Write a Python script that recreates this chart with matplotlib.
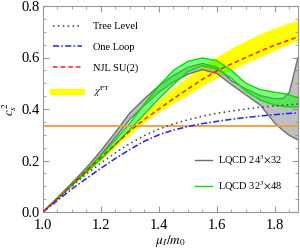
import matplotlib
matplotlib.use("Agg")
import matplotlib.pyplot as plt
from matplotlib.ticker import MultipleLocator
from matplotlib.lines import Line2D

plt.rcParams['font.family'] = ['Liberation Serif', 'DejaVu Serif']
plt.rcParams['mathtext.fontset'] = 'stix'

# ---- data ----
mu = [1.0, 1.05, 1.1, 1.15, 1.2, 1.25, 1.3, 1.35, 1.4, 1.45, 1.5, 1.55,
      1.6, 1.65, 1.7, 1.75, 1.8, 1.85, 1.88]

tree_level = [0, 0.05, 0.1, 0.148, 0.19, 0.23, 0.266, 0.297, 0.322, 0.342,
              0.358, 0.372, 0.383, 0.392, 0.4, 0.407, 0.412, 0.417, 0.419]
one_loop = [0, 0.045, 0.09, 0.13, 0.17, 0.208, 0.243, 0.275, 0.3, 0.318,
            0.332, 0.343, 0.352, 0.36, 0.367, 0.373, 0.378, 0.383, 0.385]
njl_su2 = [0, 0.052, 0.105, 0.16, 0.212, 0.263, 0.315, 0.36, 0.4, 0.44,
           0.478, 0.515, 0.548, 0.575, 0.6, 0.625, 0.648, 0.668, 0.68]
chpt_lo = [0, 0.048, 0.098, 0.148, 0.198, 0.248, 0.296, 0.345, 0.385, 0.42,
           0.452, 0.487, 0.518, 0.548, 0.575, 0.6, 0.625, 0.65, 0.664]
chpt_hi = [0, 0.056, 0.112, 0.165, 0.218, 0.27, 0.323, 0.378, 0.43, 0.478,
           0.522, 0.563, 0.6, 0.632, 0.662, 0.689, 0.712, 0.732, 0.741]

mu_lq = [1.0, 1.05, 1.1, 1.15, 1.2, 1.25, 1.3, 1.35, 1.4, 1.45, 1.5, 1.55,
         1.6, 1.65, 1.7, 1.75, 1.8, 1.83, 1.85, 1.88]
lq24_lo = [0, 0.053, 0.106, 0.16, 0.222, 0.29, 0.36, 0.415, 0.465, 0.505,
           0.535, 0.553, 0.538, 0.495, 0.455, 0.415, 0.345, 0.315, 0.298, 0.28]
lq24_hi = [0, 0.056, 0.113, 0.172, 0.238, 0.31, 0.385, 0.44, 0.49, 0.53,
           0.562, 0.577, 0.563, 0.51, 0.478, 0.452, 0.44, 0.442, 0.465, 0.6]
lq32_lo = [0, 0.052, 0.104, 0.155, 0.205, 0.262, 0.32, 0.38, 0.44, 0.495,
           0.545, 0.568, 0.555, 0.52, 0.47, 0.435, 0.415, 0.41, 0.408, 0.408]
lq32_hi = [0, 0.054, 0.108, 0.162, 0.22, 0.28, 0.345, 0.42, 0.49, 0.55,
           0.585, 0.598, 0.588, 0.55, 0.5, 0.475, 0.465, 0.46, 0.455, 0.443]

conformal = 1.0 / 3.0

xticks = [1.0, 1.2, 1.4, 1.6, 1.8]
yticks = [0.0, 0.2, 0.4, 0.6, 0.8]

# ---- figure ----
fig = plt.figure(figsize=(3.0, 2.52), dpi=100)
ax = fig.add_axes([43/300, 40/252, 255/300, 206/252])

ax.fill_between(mu, chpt_lo, chpt_hi, facecolor='#ffff00', edgecolor='none', zorder=1)
ax.fill_between(mu_lq, lq24_lo, lq24_hi, facecolor='#808080', alpha=0.5,
                edgecolor='none', zorder=2)
ax.plot(mu_lq, lq24_lo, color='#707070', lw=1.0, zorder=3)
ax.plot(mu_lq, lq24_hi, color='#707070', lw=1.0, zorder=3)
ax.fill_between(mu_lq, lq32_lo, lq32_hi, facecolor='#00ff00', alpha=0.5,
                edgecolor='none', zorder=4)
ax.plot(mu_lq, lq32_lo, color='#00e000', lw=1.0, zorder=5)
ax.plot(mu_lq, lq32_hi, color='#00e000', lw=1.0, zorder=5)

ax.axhline(conformal, color='#f39c34', lw=1.3, zorder=6)

ax.plot(mu, tree_level, color='#404040', lw=1.1, ls=(0, (1, 2.2)), zorder=7)
ax.plot(mu, one_loop, color='#1f1fff', lw=1.1, ls=(0, (4, 1.5, 1, 1.5)), zorder=7)
ax.plot(mu, njl_su2, color='#ff1a1a', lw=1.1, ls=(0, (3, 2)), zorder=8)

ax.set_xlim(1.0, 1.88)
ax.set_ylim(0.0, 0.8)
ax.set_xticks(xticks)
ax.set_yticks(yticks)
ax.set_xticklabels([f"{v:.1f}" for v in xticks])
ax.set_yticklabels([f"{v:.1f}" for v in yticks])
ax.xaxis.set_minor_locator(MultipleLocator(0.05))
ax.yaxis.set_minor_locator(MultipleLocator(0.05))
ax.tick_params(which='both', direction='in', top=True, right=True,
               color='#999999', labelsize=10.5)
ax.tick_params(axis='x', pad=5)
ax.tick_params(axis='y', pad=2)
ax.tick_params(which='major', length=4, width=0.8)
ax.tick_params(which='minor', length=2, width=0.6)
for s in ax.spines.values():
    s.set_color('#999999')
    s.set_linewidth(0.8)

ax.set_xlabel(r'$\mu_I/m_0$', fontsize=9.5, labelpad=1)
ax.set_ylabel(r'$c_s^{\,2}$', fontsize=9.5, labelpad=2)

h1 = [Line2D([], [], color='#404040', lw=1.1, ls=(0, (1, 2.2))),
      Line2D([], [], color='#1f1fff', lw=1.1, ls=(0, (4, 1.5, 1, 1.5))),
      Line2D([], [], color='#ff1a1a', lw=1.1, ls=(0, (3, 2))),
      Line2D([], [], color='#ffff00', lw=4.5)]
l1 = ['Tree Level', 'One Loop', 'NJL SU(2)', r'$\chi^{\rm PT}$']
leg1 = ax.legend(h1, l1, loc='upper left', bbox_to_anchor=(10/255, 1 - 16/206),
                 frameon=False, fontsize=7.5, handlelength=2.8, handletextpad=1.05,
                 labelspacing=1.1, borderpad=0, borderaxespad=0)
ax.add_artist(leg1)

h2 = [Line2D([], [], color='#707070', lw=1.0),
      Line2D([], [], color='#00e000', lw=1.0)]
l2 = [r'LQCD 24$^3$$\times$32', r'LQCD 32$^3$$\times$48']
ax.legend(h2, l2, loc='upper left', bbox_to_anchor=(152/255, 1 - 147/206),
          frameon=False, fontsize=7.5, handlelength=1.6, handletextpad=0.6,
          labelspacing=1.15, borderpad=0, borderaxespad=0)

fig.savefig('out.png', dpi=100)
